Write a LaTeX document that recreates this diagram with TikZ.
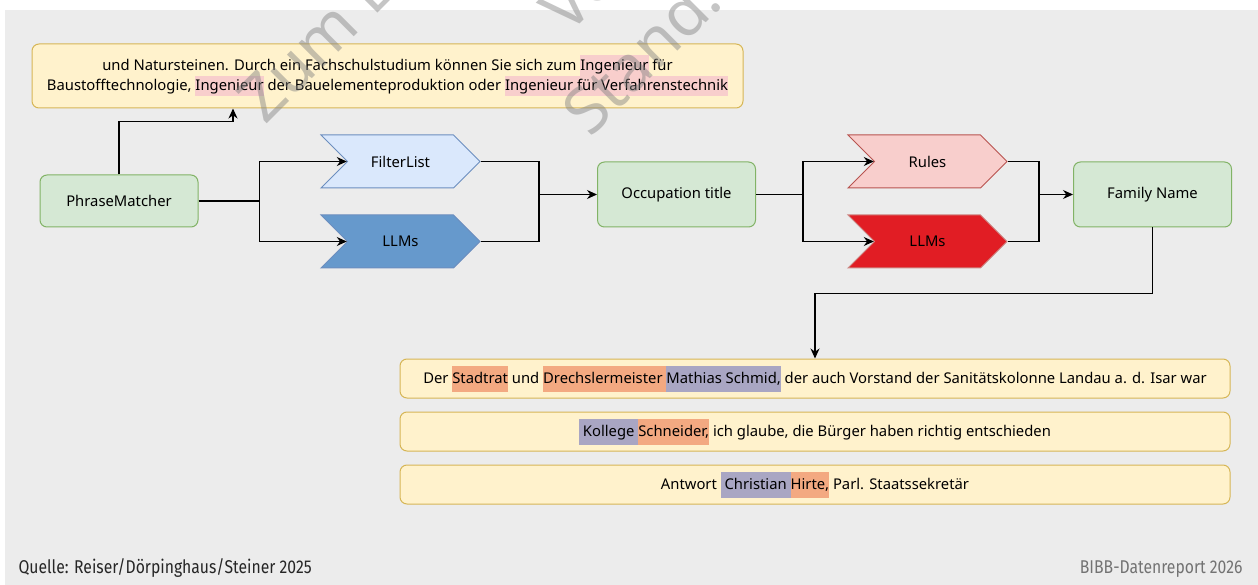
\documentclass[tikz,border=0pt]{standalone}
\usepackage{fontspec}
\setmainfont{Noto Sans}
\newfontfamily\footfont[FakeStretch=0.85]{Fira Sans}
\usetikzlibrary{positioning,shapes.symbols,arrows.meta}

\definecolor{panelgray}{HTML}{ECECEC}
\definecolor{notefill}{HTML}{FFF2CC}
\definecolor{notedraw}{HTML}{D6B656}
\definecolor{greenfill}{HTML}{D5E8D4}
\definecolor{greendraw}{HTML}{82B366}
\definecolor{bluefill}{HTML}{DAE8FC}
\definecolor{bluedraw}{HTML}{6C8EBF}
\definecolor{bluedark}{HTML}{6699CC}
\definecolor{redfill}{HTML}{F8CECC}
\definecolor{reddraw}{HTML}{B85450}
\definecolor{reddark}{HTML}{E11D24}
\definecolor{hlorange}{HTML}{F3A981}
\definecolor{hlpurple}{HTML}{A9A6C3}
\definecolor{hlpink}{HTML}{F8CECC}

\newcommand{\hlline}[2]{{\setlength{\fboxsep}{0pt}\colorbox{#1}{\rule[-5.5pt]{0pt}{20.5pt}#2}}}
\newcommand{\hlwide}[2]{{\setlength{\fboxsep}{0pt}\colorbox{#1}{\rule[-8pt]{0pt}{26pt}#2}}}

\begin{document}
\begin{tikzpicture}[x=1pt,y=-1pt,
    stagebox/.style={rounded corners=7pt,draw=greendraw,fill=greenfill,line width=1pt,minimum width=158pt,minimum height=52pt,font=\fontsize{14.8}{17}\selectfont},
    notebox/.style={rounded corners=7pt,draw=notedraw,fill=notefill,line width=1pt,font=\fontsize{14.8}{20.5}\selectfont},
    chevron/.style={signal,signal from=west,signal to=east,signal pointer angle=90,minimum width=159pt,minimum height=53pt,inner sep=0pt,line width=1pt,font=\fontsize{14.8}{17}\selectfont},
    flow/.style={-{Stealth[length=10pt,width=9pt]},line width=1.2pt},
    link/.style={line width=1.2pt},
    mark text/.style={font=\fontsize{64}{64}\selectfont,text=gray,opacity=0.45,rotate=45,anchor=base west}]
    \useasboundingbox (0,0) rectangle (1258,585);
    \clip (0,0) rectangle (1258,585);
    \fill[white] (0,0) rectangle (1258,585);
    \fill[panelgray] (5,10) rectangle (1258,585);

    % pipeline
    \node[stagebox,minimum height=52pt] (phrase) at (119,201) {PhraseMatcher};
    \node[notebox,minimum width=711pt,minimum height=64pt,align=center] (note) at (387.5,76)
        {und Natursteinen. Durch ein Fachschulstudium können Sie sich zum \hlline{hlpink}{Ingenieur} für\\
         Baustofftechnologie, \hlline{hlpink}{Ingenieur} der Bauelementeproduktion oder \hlline{hlpink}{Ingenieur für Verfahrenstechnik}};
    \node[chevron,draw=bluedraw,fill=bluefill] (filter) at (400.5,161.5) {FilterList};
    \node[chevron,draw=bluedraw,fill=bluedark] (llmsA) [below=26pt of filter] {LLMs};
    \node[stagebox,minimum height=65pt] (occ) at (676.5,194.5) {Occupation title};
    \node[chevron,draw=reddraw,fill=redfill] (rules) at (927.5,161.5) {Rules};
    \node[chevron,draw=reddraw!70,fill=reddark] (llmsB) [below=26pt of rules] {LLMs};
    \node[stagebox,minimum height=65pt] (family) [right=317pt of occ] {Family Name};

    % examples
    \node[notebox,minimum width=830pt,minimum height=39pt] (ex1) at (815,378.5)
        {Der \hlwide{hlorange}{Stadtrat} und \hlwide{hlorange}{Drechslermeister }\hlwide{hlpurple}{Mathias Schmid,} der auch Vorstand der Sanitätskolonne Landau a. d. Isar war};
    \node[notebox,minimum width=830pt,minimum height=39pt] (ex2) [below=13pt of ex1]
        {\hlwide{hlpurple}{ Kollege }\hlwide{hlorange}{Schneider,} ich glaube, die Bürger haben richtig entschieden};
    \node[notebox,minimum width=830pt,minimum height=39pt] (ex3) [below=13pt of ex2]
        {Antwort \hlwide{hlpurple}{ Christian }\hlwide{hlorange}{Hirte,} Parl. Staatssekretär};

    % connectors
    \coordinate (splitA) at ([xshift=61pt]phrase.east);
    \coordinate (mergeA) at (539,0 |- occ.west);
    \coordinate (splitB) at ([xshift=47pt]occ.east);
    \coordinate (mergeB) at (1039,0 |- family.west);
    \draw[flow] (phrase.north) -- ++(0,-53) -| ([xshift=-154.5pt]note.south);
    \draw[link] (phrase.east) -- (splitA);
    \draw[flow] (splitA) |- (filter.west);
    \draw[flow] (splitA) |- (llmsA.west);
    \draw[link] (filter.east) -| (mergeA);
    \draw[link] (llmsA.east) -| (mergeA);
    \draw[flow] (mergeA) -- (occ.west);
    \draw[link] (occ.east) -- (splitB);
    \draw[flow] (splitB) |- (rules.west);
    \draw[flow] (splitB) |- (llmsB.west);
    \draw[link] (rules.east) -| (mergeB);
    \draw[link] (llmsB.east) -| (mergeB);
    \draw[flow] (mergeB) -- (family.west);
    \draw[flow] (family.south) -- ++(0,66) -| (ex1.north);

    % footer
    \node[anchor=base west,font=\footfont\fontsize{18.5}{18.5}\selectfont,text=black!85] (src) at (15,573) {Quelle: Reiser/Dörpinghaus/Steiner 2025};
    \node[anchor=base east,font=\footfont\fontsize{18.5}{18.5}\selectfont,text=black!55] (brand) at (1246,573) {BIBB-Datenreport 2026};

    % watermark
    \node[mark text] (markA) at (263,128) {Zum B};
    \node[mark text] (markB) at (566,38) {Ve};
    \node[mark text] (markC) at (588,141) {Stand.};
\end{tikzpicture}
\end{document}
